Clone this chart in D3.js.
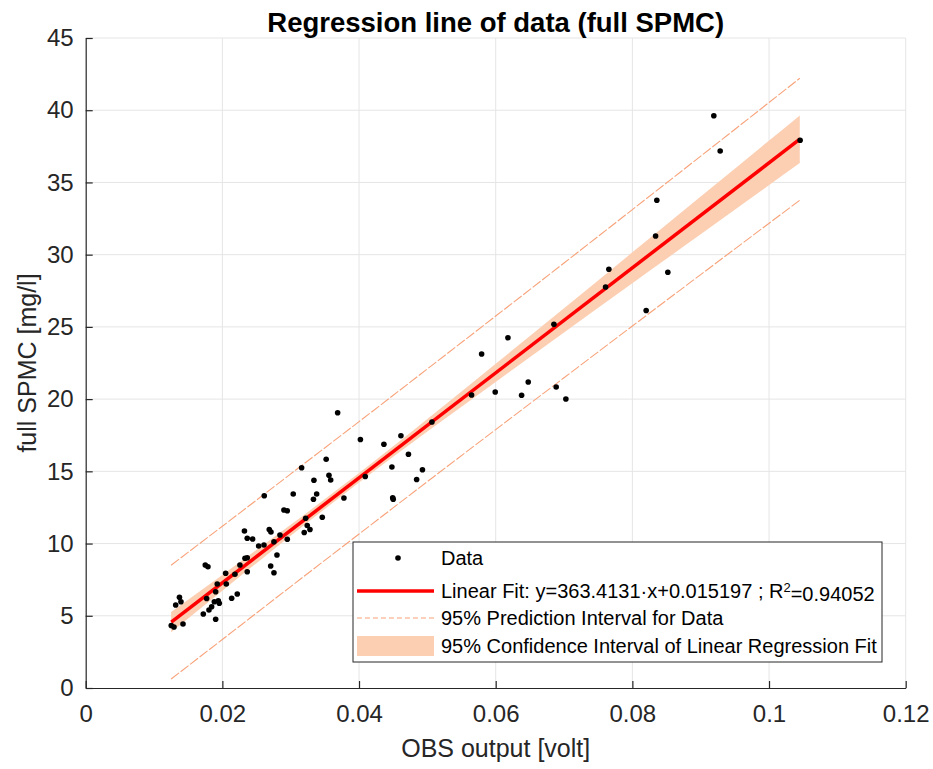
<!DOCTYPE html>
<html>
<head>
<meta charset="utf-8">
<script src="https://cdn.jsdelivr.net/npm/d3@7"></script>
<style>
  html, body { margin: 0; padding: 0; background: #fff; }
  svg { display: block; font-family: "Liberation Sans", Arial, Helvetica, sans-serif; }
</style>
</head>
<body>
<svg id="chart" width="933" height="769"></svg>
<script>
// ---------------- data ----------------
const xObs = [0.01252,0.01292,0.01424,0.01317,0.01372,0.01394,0.01721,0.01750,0.01789,0.01770,
  0.01804,0.01843,0.01902,0.01882,0.01940,0.01955,0.01902,0.01925,0.02057,0.02048,
  0.02184,0.02136,0.02218,0.02257,0.02331,0.02364,0.02364,0.02364,0.02443,0.02531,
  0.02609,0.02707,0.02755,0.02799,0.02323,0.02686,0.02711,0.02755,0.02843,0.02950,
  0.02901,0.02950,0.03219,0.03242,0.03282,0.03198,0.03462,0.02613,0.03037,0.03333,
  0.03380,0.03340,0.03160,0.03519,0.03560,0.03585,0.03687,0.04020,0.04091,0.03779,
  0.04364,0.04613,0.04723,0.04481,0.04928,0.04843,0.04493,0.04500,0.05067,0.05647,
  0.05794,0.05993,0.06179,0.06379,0.06476,0.06852,0.06885,0.07027,0.07608,0.07656,
  0.08202,0.08340,0.08358,0.08519,0.09192,0.09285,0.10455];
const yObs = [4.327,4.223,4.431,5.746,6.279,5.975,5.123,8.516,8.398,6.196,
  5.400,5.629,4.756,5.975,6.044,5.864,6.667,7.200,7.200,7.941,
  7.872,6.210,6.508,8.516,8.979,9.021,8.052,10.364,10.316,9.831,
  9.900,8.446,7.983,9.208,10.870,10.973,10.800,10.129,10.593,10.295,
  12.323,12.275,11.749,11.250,10.973,10.766,11.818,13.314,13.431,13.071,
  13.431,14.380,15.252,15.833,14.726,14.400,19.060,17.204,14.643,13.154,
  16.879,17.461,16.180,15.300,15.114,14.435,13.175,13.064,18.416,20.285,
  23.124,20.493,24.252,20.264,21.185,25.180,20.839,20.008,27.763,28.988,
  26.136,31.293,33.765,28.780,39.622,37.178,37.919];

const fitSlope = 363.4131;
const fitIntercept = 0.015197;

// interval bands
const bandX    = [0.0125, 0.02, 0.03, 0.04, 0.05, 0.06, 0.07, 0.08, 0.09, 0.1045];
const confLow  = [3.86, 6.73, 10.54, 14.22, 17.75, 21.19, 24.61, 28.02, 31.41, 36.34];
const confHigh = [5.26, 7.83, 11.30, 14.88, 18.63, 22.45, 26.29, 30.16, 34.03, 39.64];
const predLow  = [0.62, 3.36, 7.02, 10.66, 14.29, 17.89, 21.48, 25.06, 28.62, 33.77];
const predHigh = [8.50, 11.20, 14.82, 18.44, 22.09, 25.75, 29.42, 33.12, 36.82, 42.21];

const xTicks = [0, 0.02, 0.04, 0.06, 0.08, 0.1, 0.12];
const yTicks = [0, 5, 10, 15, 20, 25, 30, 35, 40, 45];

const titleText = "Regression line of data (full SPMC)";
const xLabel = "OBS output [volt]";
const yLabel = "full SPMC [mg/l]";
const legendLabels = ["Data", "Linear Fit: y=363.4131·x+0.015197 ; R", "95% Prediction Interval for Data", "95% Confidence Interval of Linear Regression Fit"];

// ---------------- layout ----------------
const svg = d3.select("#chart");
const L = 85.7, R = 905.7, T = 38, B = 688;
const x = d3.scaleLinear().domain([0, 0.12]).range([L, R]);
const y = d3.scaleLinear().domain([0, 45]).range([B, T]);

const axisCol = "#262626";
const gridCol = "#e5e5e5";
const bandCol = "#fccfb3";
const predCol = "#f8a279";

// grid
const g = svg.append("g");
g.selectAll(".gx").data(xTicks.slice(1)).enter().append("line")
  .attr("x1", d => x(d)).attr("x2", d => x(d)).attr("y1", T).attr("y2", B)
  .attr("stroke", gridCol).attr("stroke-width", 1);
g.selectAll(".gy").data(yTicks.slice(1)).enter().append("line")
  .attr("x1", L).attr("x2", R).attr("y1", d => y(d)).attr("y2", d => y(d))
  .attr("stroke", gridCol).attr("stroke-width", 1);

// confidence band
const bandData = bandX.map((v, i) => ({x: v, lo: confLow[i], hi: confHigh[i], plo: predLow[i], phi: predHigh[i]}));
svg.append("path").datum(bandData)
  .attr("d", d3.area().x(d => x(d.x)).y0(d => y(d.lo)).y1(d => y(d.hi)).curve(d3.curveMonotoneX))
  .attr("fill", bandCol);

// prediction interval lines
["plo", "phi"].forEach(k => {
  svg.append("path").datum(bandData)
    .attr("d", d3.line().x(d => x(d.x)).y(d => y(d[k])).curve(d3.curveMonotoneX))
    .attr("fill", "none").attr("stroke", predCol).attr("stroke-width", 1.1)
    .attr("stroke-dasharray", "10,2");
});

// fit line
const xMin = d3.min(xObs), xMax = d3.max(xObs);
svg.append("line")
  .attr("x1", x(xMin)).attr("y1", y(fitSlope * xMin + fitIntercept))
  .attr("x2", x(xMax)).attr("y2", y(fitSlope * xMax + fitIntercept))
  .attr("stroke", "#ff0000").attr("stroke-width", 3.5);

// data points
svg.append("g").selectAll("circle").data(xObs.map((v, i) => [v, yObs[i]])).enter()
  .append("circle").attr("cx", d => x(d[0])).attr("cy", d => y(d[1])).attr("r", 2.8)
  .attr("fill", "#000");

// axes
const xAxis = svg.append("g").attr("transform", `translate(0,${B})`)
  .call(d3.axisBottom(x).tickValues(xTicks).tickFormat(d => d3.format("")(+d.toFixed(2))).tickSizeInner(-7).tickSizeOuter(0).tickPadding(17));
const yAxis = svg.append("g").attr("transform", `translate(${L},0)`)
  .call(d3.axisLeft(y).tickValues(yTicks).tickSizeInner(-7).tickSizeOuter(0).tickPadding(12));
[xAxis, yAxis].forEach(a => {
  a.select(".domain").attr("stroke", axisCol).attr("stroke-width", 1.2);
  a.selectAll(".tick line").attr("stroke", axisCol).attr("stroke-width", 1.2);
  a.selectAll(".tick text").attr("fill", axisCol).attr("font-size", 24)
    .attr("font-family", "'Liberation Sans', Arial, sans-serif");
});

// labels
svg.append("text").attr("x", (L + R) / 2).attr("y", 32).attr("text-anchor", "middle")
  .attr("font-size", 27.5).attr("font-weight", "bold").attr("fill", "#000").text(titleText);
svg.append("text").attr("x", (L + R) / 2).attr("y", 757).attr("text-anchor", "middle")
  .attr("font-size", 25).attr("fill", axisCol).text(xLabel);
svg.append("text").attr("transform", `translate(36,${(T + B) / 2}) rotate(-90)`).attr("text-anchor", "middle")
  .attr("font-size", 25).attr("fill", axisCol).text(yLabel);

// legend
const lg = svg.append("g");
const lgX = 353, lgY = 542, lgW = 529, lgH = 120;
lg.append("rect").attr("x", lgX).attr("y", lgY).attr("width", lgW).attr("height", lgH)
  .attr("fill", "#fff").attr("stroke", axisCol).attr("stroke-width", 1);
const rowY = [558, 591, 618, 646];
const tx = 441, fs = 20;
lg.append("circle").attr("cx", 398).attr("cy", rowY[0]).attr("r", 2.8).attr("fill", "#000");
lg.append("line").attr("x1", 357).attr("x2", 434).attr("y1", rowY[1]).attr("y2", rowY[1])
  .attr("stroke", "#ff0000").attr("stroke-width", 3.5);
lg.append("line").attr("x1", 357).attr("x2", 434).attr("y1", rowY[2]).attr("y2", rowY[2])
  .attr("stroke", predCol).attr("stroke-width", 1).attr("stroke-dasharray", "5,3");
lg.append("rect").attr("x", 357).attr("y", rowY[3] - 10).attr("width", 77).attr("height", 20).attr("fill", bandCol);
legendLabels.forEach((t, i) => {
  const te = lg.append("text").attr("x", tx).attr("y", rowY[i]).attr("dy", "0.35em")
    .attr("font-size", fs).attr("fill", "#000").text(t);
  if (i === 1) {
    te.append("tspan").attr("dy", "-0.45em").attr("font-size", 13).text("2");
    te.append("tspan").attr("dy", "0.45em").text("=0.94052");
  }
});
</script>
</body>
</html>
